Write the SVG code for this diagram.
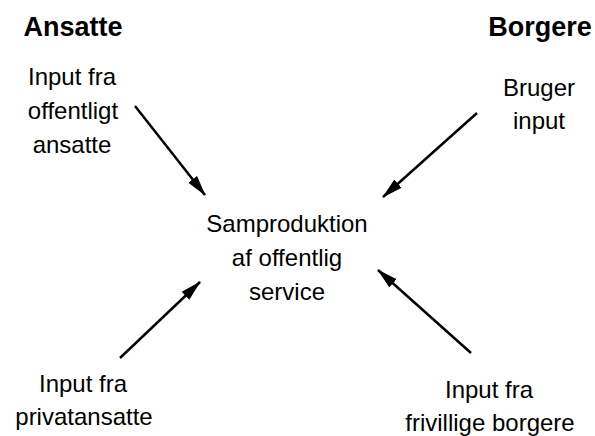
<svg xmlns="http://www.w3.org/2000/svg" width="595" height="436" viewBox="0 0 595 436">
<style>
text{font-family:"Liberation Sans",Arial,sans-serif;fill:#000;text-anchor:middle}
.h{font-weight:bold;font-size:27px}
.t{font-size:24px}
.c line{stroke:#000;stroke-width:2.5;marker-end:url(#ah)}
</style>
<defs>
<marker id="ah" markerUnits="userSpaceOnUse" markerWidth="22" markerHeight="12" refX="20" refY="5.5" orient="auto" viewBox="0 0 22 11">
<path d="M0,0 L21,5.5 L0,11 Z" fill="#000"/>
</marker>
</defs>
<rect width="595" height="436" fill="#fff"/>
<g id="ansatte"><text class="h" x="73" y="36">Ansatte</text></g>
<g id="borgere"><text class="h" x="540" y="36">Borgere</text></g>
<g id="offentligt"><text class="t" x="72" y="85">Input fra</text><text class="t" x="73" y="119">offentligt</text><text class="t" x="72" y="153">ansatte</text></g>
<g id="bruger"><text class="t" x="539" y="96">Bruger</text><text class="t" x="539" y="129">input</text></g>
<g id="samproduktion"><text class="t" x="287" y="232">Samproduktion</text><text class="t" x="287" y="266">af offentlig</text><text class="t" x="287" y="300">service</text></g>
<g id="privat"><text class="t" x="83" y="392">Input fra</text><text class="t" x="84" y="425">privatansatte</text></g>
<g id="frivillige"><text class="t" x="489" y="398">Input fra</text><text class="t" x="490" y="431">frivillige borgere</text></g>
<g id="connectors" class="c">
<line x1="135" y1="106" x2="205" y2="195"/>
<line x1="477" y1="113" x2="383" y2="197"/>
<line x1="120" y1="358" x2="200" y2="282"/>
<line x1="471" y1="353" x2="378" y2="270"/>
</g>
</svg>
